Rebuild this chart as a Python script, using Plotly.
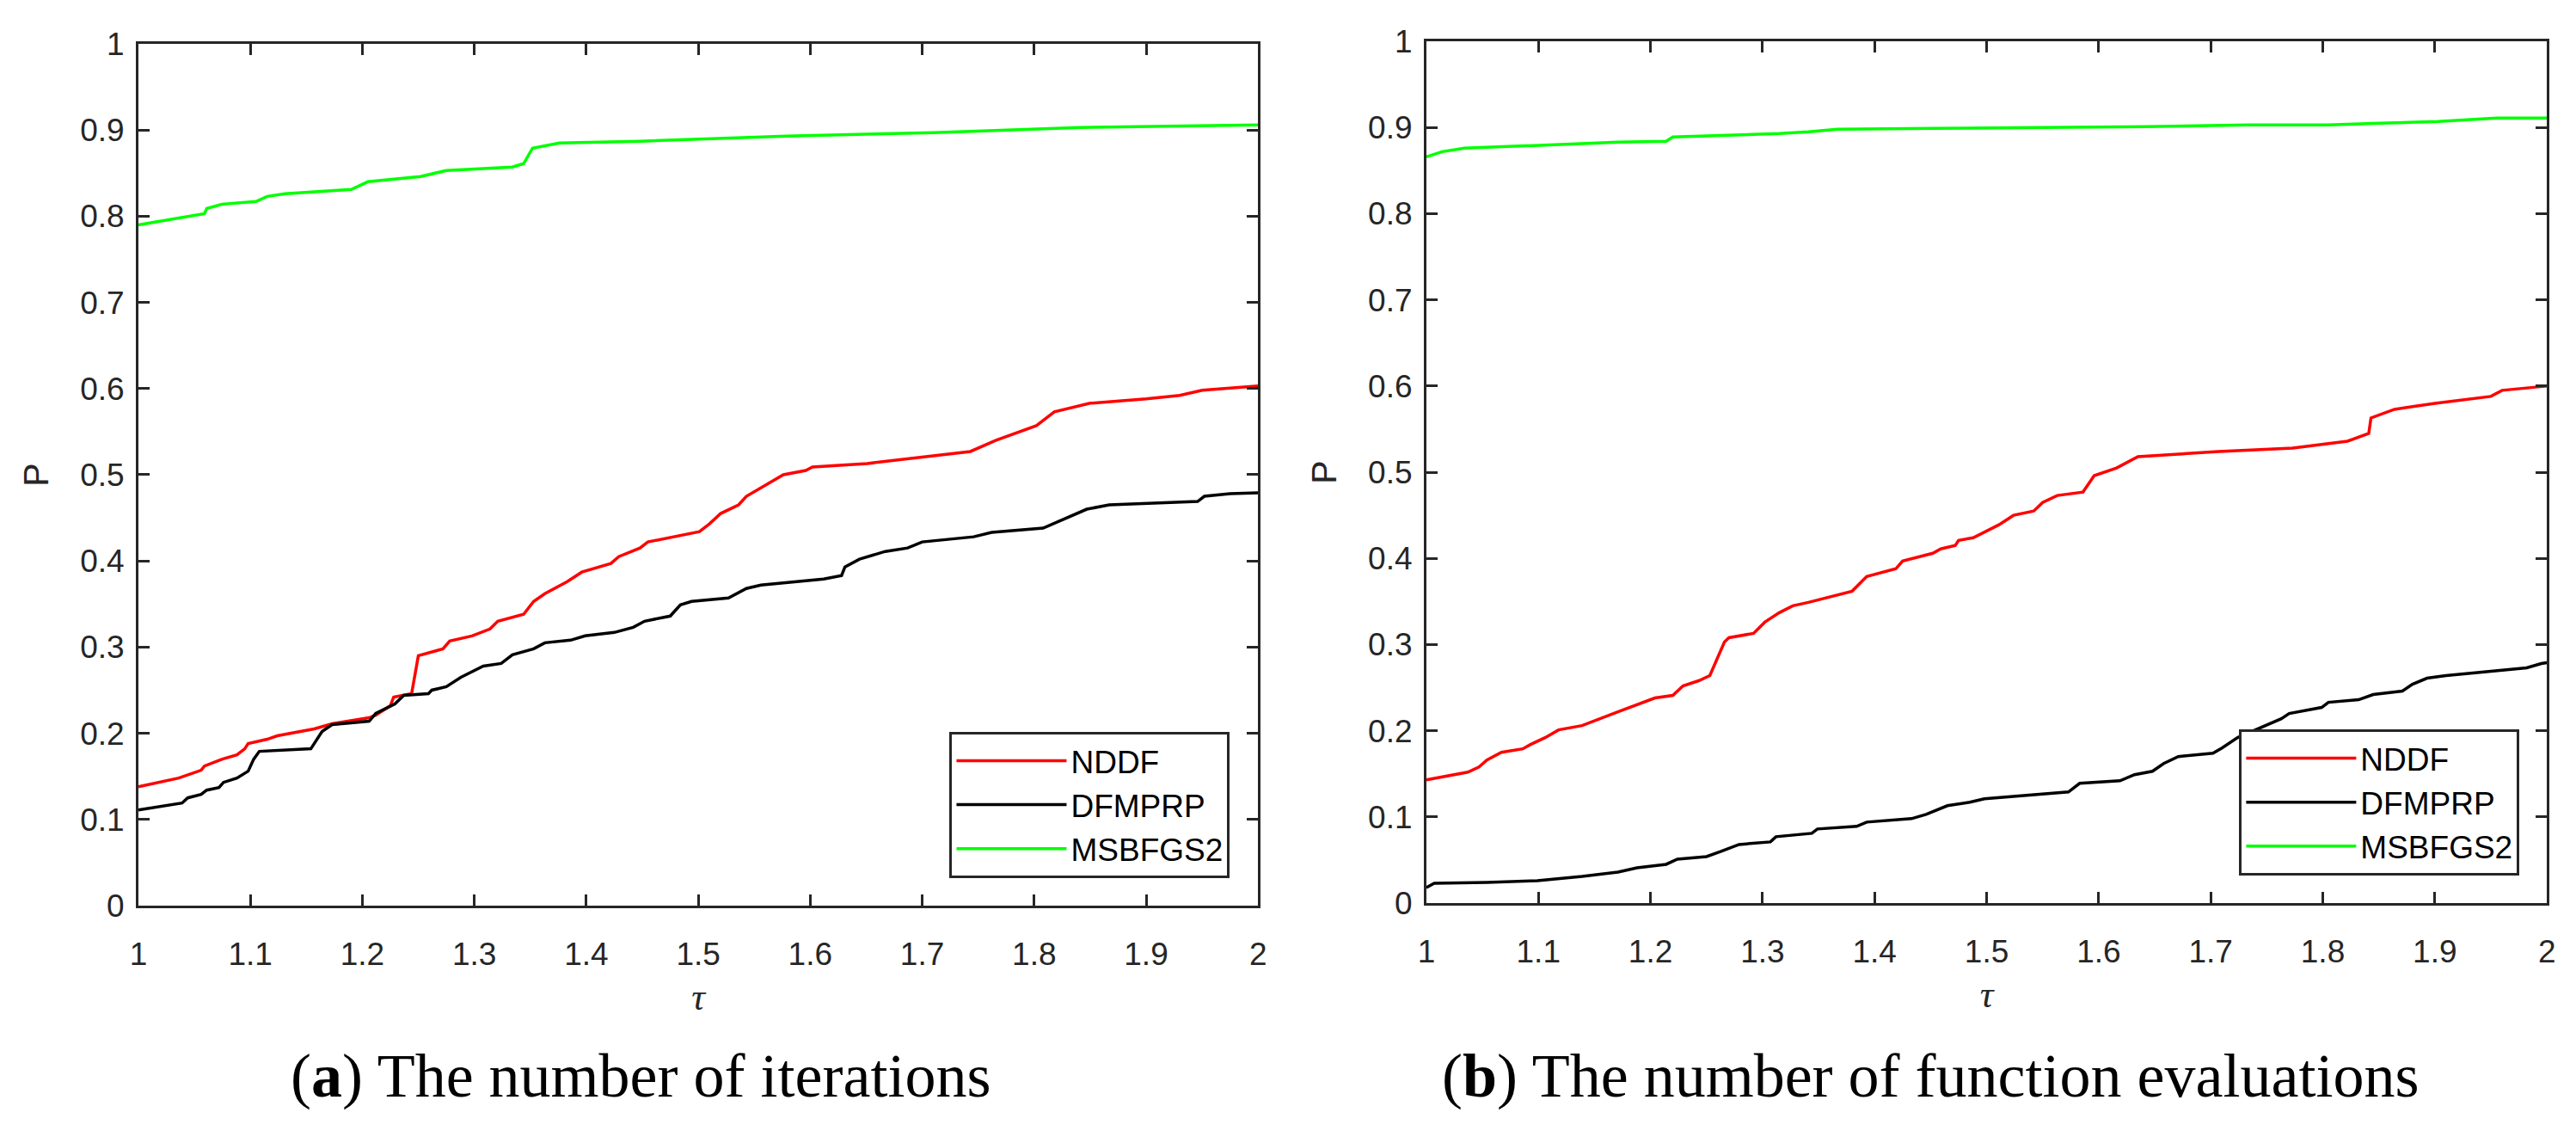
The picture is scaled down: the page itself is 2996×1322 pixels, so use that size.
import plotly.graph_objects as go

# ---------------- data ----------------
series_names = ["NDDF", "DFMPRP", "MSBFGS2"]
series_colors = ["#FF0000", "#000000", "#00FF00"]

# (a) number of iterations
a_nddf_tau = [1.000, 1.036, 1.056, 1.059, 1.075, 1.088, 1.095, 1.098, 1.115, 1.124, 1.157, 1.173, 1.206, 1.212,
              1.225, 1.228, 1.244, 1.250, 1.272, 1.278, 1.298, 1.314, 1.321, 1.344, 1.353, 1.363, 1.383, 1.396,
              1.422, 1.429, 1.448, 1.455, 1.501, 1.510, 1.520, 1.536, 1.543, 1.576, 1.596, 1.602, 1.651, 1.743,
              1.766, 1.802, 1.818, 1.850, 1.900, 1.930, 1.950, 2.000]
a_nddf_p = [0.138, 0.148, 0.157, 0.162, 0.170, 0.175, 0.182, 0.188, 0.193, 0.197, 0.205, 0.211, 0.218, 0.221,
            0.232, 0.242, 0.246, 0.290, 0.298, 0.307, 0.313, 0.321, 0.330, 0.338, 0.353, 0.362, 0.376, 0.387,
            0.397, 0.405, 0.415, 0.422, 0.434, 0.443, 0.455, 0.465, 0.475, 0.500, 0.505, 0.509, 0.513, 0.527,
            0.540, 0.557, 0.573, 0.583, 0.588, 0.592, 0.598, 0.603]

a_dfmprp_tau = [1.000, 1.039, 1.044, 1.056, 1.061, 1.072, 1.076, 1.088, 1.098, 1.103, 1.108, 1.154, 1.164, 1.173,
                1.206, 1.212, 1.229, 1.237, 1.259, 1.262, 1.275, 1.288, 1.308, 1.324, 1.334, 1.353, 1.363, 1.386,
                1.399, 1.425, 1.442, 1.452, 1.475, 1.484, 1.494, 1.527, 1.543, 1.556, 1.612, 1.628, 1.631, 1.644,
                1.667, 1.687, 1.700, 1.746, 1.762, 1.808, 1.847, 1.867, 1.946, 1.952, 1.975, 2.000]
a_dfmprp_p = [0.111, 0.119, 0.125, 0.129, 0.134, 0.137, 0.143, 0.148, 0.156, 0.170, 0.179, 0.182, 0.202, 0.210,
              0.214, 0.223, 0.234, 0.244, 0.246, 0.250, 0.254, 0.265, 0.278, 0.281, 0.291, 0.298, 0.305, 0.308,
              0.313, 0.317, 0.323, 0.330, 0.336, 0.349, 0.353, 0.357, 0.368, 0.372, 0.379, 0.383, 0.393, 0.402,
              0.411, 0.415, 0.422, 0.428, 0.433, 0.438, 0.460, 0.465, 0.469, 0.475, 0.478, 0.479]

a_msbfgs2_tau = [1.000, 1.059, 1.061, 1.075, 1.105, 1.115, 1.131, 1.190, 1.205, 1.252, 1.275, 1.334, 1.344, 1.352,
                 1.376, 1.448, 1.579, 1.710, 1.841, 2.000]
a_msbfgs2_p = [0.790, 0.803, 0.809, 0.814, 0.817, 0.823, 0.826, 0.831, 0.840, 0.846, 0.853, 0.857, 0.861, 0.879,
               0.885, 0.887, 0.893, 0.897, 0.903, 0.906]

# (b) number of function evaluations
b_nddf_tau = [1.000, 1.037, 1.047, 1.054, 1.067, 1.086, 1.093, 1.106, 1.118, 1.139, 1.171, 1.184, 1.204, 1.220,
              1.229, 1.243, 1.253, 1.266, 1.270, 1.292, 1.302, 1.315, 1.327, 1.341, 1.361, 1.380, 1.393, 1.419,
              1.425, 1.452, 1.459, 1.472, 1.475, 1.488, 1.511, 1.524, 1.542, 1.550, 1.563, 1.586, 1.596, 1.616,
              1.635, 1.707, 1.773, 1.822, 1.841, 1.843, 1.864, 1.900, 1.950, 1.960, 2.000]
b_nddf_p = [0.143, 0.152, 0.158, 0.166, 0.175, 0.179, 0.184, 0.192, 0.201, 0.206, 0.222, 0.228, 0.238, 0.241,
            0.252, 0.258, 0.264, 0.303, 0.308, 0.313, 0.326, 0.337, 0.345, 0.349, 0.356, 0.362, 0.379, 0.388,
            0.397, 0.406, 0.411, 0.415, 0.421, 0.424, 0.439, 0.450, 0.455, 0.465, 0.473, 0.477, 0.496, 0.505,
            0.518, 0.524, 0.528, 0.536, 0.545, 0.563, 0.573, 0.580, 0.588, 0.595, 0.600]

b_dfmprp_tau = [1.000, 1.007, 1.054, 1.099, 1.139, 1.171, 1.188, 1.214, 1.224, 1.250, 1.263, 1.279, 1.307, 1.312,
                1.344, 1.349, 1.384, 1.393, 1.433, 1.446, 1.465, 1.485, 1.498, 1.537, 1.573, 1.583, 1.619, 1.632,
                1.648, 1.658, 1.671, 1.702, 1.710, 1.724, 1.743, 1.763, 1.770, 1.799, 1.805, 1.832, 1.845, 1.871,
                1.880, 1.893, 1.910, 1.982, 1.995, 2.000]
b_dfmprp_p = [0.018, 0.023, 0.024, 0.026, 0.031, 0.036, 0.041, 0.045, 0.051, 0.054, 0.060, 0.068, 0.071, 0.077,
              0.081, 0.086, 0.089, 0.094, 0.098, 0.103, 0.113, 0.117, 0.121, 0.125, 0.129, 0.139, 0.142, 0.149,
              0.153, 0.162, 0.170, 0.174, 0.180, 0.192, 0.203, 0.214, 0.220, 0.227, 0.233, 0.236, 0.242, 0.246,
              0.254, 0.261, 0.264, 0.273, 0.278, 0.279]

b_msbfgs2_tau = [1.000, 1.014, 1.034, 1.073, 1.119, 1.171, 1.214, 1.220, 1.269, 1.315, 1.341, 1.367, 1.452, 1.544,
                 1.642, 1.733, 1.805, 1.851, 1.903, 1.942, 1.956, 2.000]
b_msbfgs2_p = [0.866, 0.872, 0.876, 0.878, 0.880, 0.883, 0.884, 0.889, 0.891, 0.893, 0.895, 0.898, 0.899, 0.900,
               0.901, 0.903, 0.903, 0.905, 0.907, 0.910, 0.911, 0.911]

x_tickvals = [1, 1.1, 1.2, 1.3, 1.4, 1.5, 1.6, 1.7, 1.8, 1.9, 2]
x_ticktext = ["1", "1.1", "1.2", "1.3", "1.4", "1.5", "1.6", "1.7", "1.8", "1.9", "2"]
y_tickvals = [0, 0.1, 0.2, 0.3, 0.4, 0.5, 0.6, 0.7, 0.8, 0.9, 1]
y_ticktext = ["0", "0.1", "0.2", "0.3", "0.4", "0.5", "0.6", "0.7", "0.8", "0.9", "1"]

x_title = "<i>τ</i>"
y_title = "P"
captions = ["(<b>a</b>) The number of iterations", "(<b>b</b>) The number of function evaluations"]

# ---------------- figure ----------------
W, H = 2996, 1322
fig = go.Figure()

panel_a = [(a_nddf_tau, a_nddf_p), (a_dfmprp_tau, a_dfmprp_p), (a_msbfgs2_tau, a_msbfgs2_p)]
panel_b = [(b_nddf_tau, b_nddf_p), (b_dfmprp_tau, b_dfmprp_p), (b_msbfgs2_tau, b_msbfgs2_p)]

for i, (xs, ys) in enumerate(panel_a):
    fig.add_trace(go.Scatter(x=xs, y=ys, mode="lines", name=series_names[i],
                             line=dict(color=series_colors[i], width=3.5),
                             xaxis="x", yaxis="y", legend="legend"))
for i, (xs, ys) in enumerate(panel_b):
    fig.add_trace(go.Scatter(x=xs, y=ys, mode="lines", name=series_names[i],
                             line=dict(color=series_colors[i], width=3.5),
                             xaxis="x2", yaxis="y2", legend="legend2"))

axcol = "#262626"
tickfont = dict(family="Liberation Sans, Arial, sans-serif", size=37, color=axcol)


def xaxis(domain, anchor):
    return dict(domain=domain, anchor=anchor, range=[1, 2], tickvals=x_tickvals, ticktext=x_ticktext,
                showline=True, mirror="ticks", linecolor=axcol, linewidth=3,
                ticks="inside", ticklen=13, tickwidth=3, tickcolor=axcol,
                showgrid=False, zeroline=False, tickfont=tickfont, ticklabelstandoff=22,
                title=dict(text=x_title, font=dict(family="Liberation Serif, serif", size=44, color=axcol),
                           standoff=14))


def yaxis(domain, anchor):
    return dict(domain=domain, anchor=anchor, range=[0, 1], tickvals=y_tickvals, ticktext=y_ticktext,
                showline=True, mirror="ticks", linecolor=axcol, linewidth=3,
                ticks="inside", ticklen=13, tickwidth=3, tickcolor=axcol,
                showgrid=False, zeroline=False, tickfont=tickfont, ticklabelstandoff=6,
                title=dict(text=y_title, font=dict(family="Liberation Sans, Arial, sans-serif", size=41,
                                                   color=axcol), standoff=24))


xa = (152 / W, 1463 / W)
xb = (1660 / W, 2972 / W)
ya = (1 - 1066 / H, 1 - 32 / H)
yb = (1 - 1063 / H, 1 - 29 / H)

legend_common = dict(bgcolor="white", bordercolor=axcol, borderwidth=3,
                     font=dict(family="Liberation Sans, Arial, sans-serif", size=37, color="black"),
                     itemwidth=128, xanchor="right", yanchor="bottom", tracegroupgap=0)

fig.update_layout(
    width=W, height=H, autosize=False,
    margin=dict(l=0, r=0, t=0, b=0),
    paper_bgcolor="white", plot_bgcolor="white",
    xaxis=xaxis(xa, "y"), yaxis=yaxis(ya, "x"),
    xaxis2=xaxis(xb, "y2"), yaxis2=yaxis(yb, "x2"),
    legend=dict(x=1430 / W, y=1 - 1033 / H, **legend_common),
    legend2=dict(x=2940 / W, y=1 - 1030 / H, **legend_common),
    showlegend=True,
)

cap_font = dict(family="Liberation Serif, Times New Roman, serif", size=72, color="black")
fig.add_annotation(text=captions[0], x=740 / W, y=1 - 1270 / H, xref="paper", yref="paper",
                   xanchor="center", yanchor="middle", showarrow=False, font=cap_font)
fig.add_annotation(text=captions[1], x=2250 / W, y=1 - 1270 / H, xref="paper", yref="paper",
                   xanchor="center", yanchor="middle", showarrow=False, font=cap_font)

fig.write_html("out.html", config={"displayModeBar": False},
               post_script="document.body.style.margin='0';")
